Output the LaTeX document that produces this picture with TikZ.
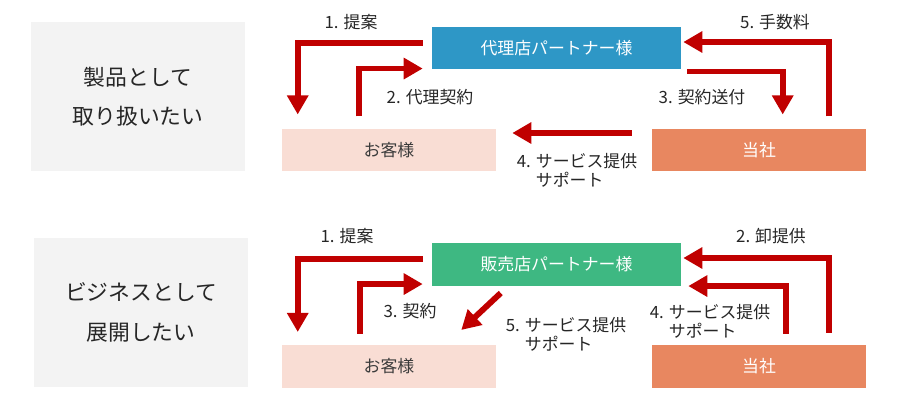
\documentclass[tikz,border=0pt]{standalone}
\usepackage{fontspec}
\setmainfont{Noto Sans CJK JP}
\usetikzlibrary{arrows.meta, positioning, calc}
\definecolor{panelgray}{RGB}{243,243,243}
\definecolor{agentblue}{RGB}{46,151,198}
\definecolor{dealergreen}{RGB}{62,184,130}
\definecolor{clientpink}{RGB}{249,221,212}
\definecolor{firmorange}{RGB}{232,135,96}
\definecolor{flowred}{RGB}{192,0,0}
\definecolor{inkgray}{RGB}{38,38,38}

\begin{document}
\begin{tikzpicture}[x=0.025cm, y=-0.025cm,
  panel/.style={fill=panelgray, align=center, minimum width=214*0.025cm,
                minimum height=149*0.025cm, inner sep=0pt,
                font=\fontsize{15.5}{28}\selectfont, text=inkgray},
  partner/.style={minimum width=249*0.025cm, minimum height=42.5*0.025cm,
                  inner sep=0pt, font=\fontsize{12}{14}\selectfont, text=white},
  client/.style={fill=clientpink, minimum width=214*0.025cm,
                 minimum height=42.5*0.025cm, inner sep=0pt,
                 font=\fontsize{12}{14}\selectfont, text=inkgray!90},
  firm/.style={fill=firmorange, minimum width=214*0.025cm,
               minimum height=42.5*0.025cm, inner sep=0pt,
               font=\fontsize{12}{14}\selectfont, text=white},
  arr/.style={-{Triangle[width=14.5pt, length=13.5pt]}, line width=4.2pt, flowred},
  lbl/.style={font=\fontsize{12}{13.5}\selectfont, text=inkgray, align=left, inner sep=0pt}
]
\useasboundingbox (0,0) rectangle (900,410);

\node[panel] (want1) at (138,96.5) {製品として\\取り扱いたい};
\node[panel] (want2) at (141,312.5) {ビジネスとして\\展開したい};

\node[partner, fill=agentblue] (agent) at (556.5,48) {代理店パートナー様};
\node[client] (cust1) at (389,150) {お客様};
\node[firm] (us1) at (759,150) {当社};

\node[partner, fill=dealergreen] (dealer) at (556.5,264.5) {販売店パートナー様};
\node[client] (cust2) at (389,366.5) {お客様};
\node[firm] (us2) at (759,366.5) {当社};

\draw[arr] ($(agent.west)+(-9,-5)$) -| ($(cust1.north west)+(16,-14)$);
\draw[arr] ($(cust1.north west)+(77,-12)$) |- ($(agent.south west)+(-9,-1)$);
\draw[arr] ($(agent.south east)+(6,2)$) -| ($(us1.north west)+(131,-14)$);
\draw[arr] ($(us1.west)+(-20,-17)$) -- ($(cust1.east)+(16,-17)$);
\draw[arr] ($(us1.north east)+(-37,-12)$) |- ($(agent.east)+(2,-6)$);

\node[lbl] (t1) at (351,22) {1. 提案};
\node[lbl] (t2) at (430,97) {2. 代理契約};
\node[lbl] (t3) at (702,97) {3. 契約送付};
\node[lbl] (t4) at (577,170) {4. サービス提供\\\phantom{4. }サポート};
\node[lbl] (t5) at (775,22) {5. 手数料};

\draw[arr] ($(dealer.west)+(-9,-5.5)$) -| ($(cust2.north west)+(16,-13)$);
\draw[arr] ($(cust2.north west)+(78,-11)$) |- ($(dealer.south west)+(-9,-2)$);
\draw[arr] ($(dealer.south west)+(69,7)$) -- ($(cust2.north east)+(-35,-15)$);
\draw[arr] ($(us2.north east)+(-37,-12)$) |- ($(dealer.east)+(2,-6.5)$);
\draw[arr] ($(us2.north west)+(134,-11)$) |- ($(dealer.south east)+(7,0)$);

\node[lbl] (s1) at (347,236) {1. 提案};
\node[lbl] (s2) at (771,236) {2. 卸提供};
\node[lbl] (s3) at (410,311) {3. 契約};
\node[lbl] (s4) at (710,321) {4. サービス提供\\\phantom{4. }サポート};
\node[lbl] (s5) at (566,334) {5. サービス提供\\\phantom{5. }サポート};
\end{tikzpicture}
\end{document}
